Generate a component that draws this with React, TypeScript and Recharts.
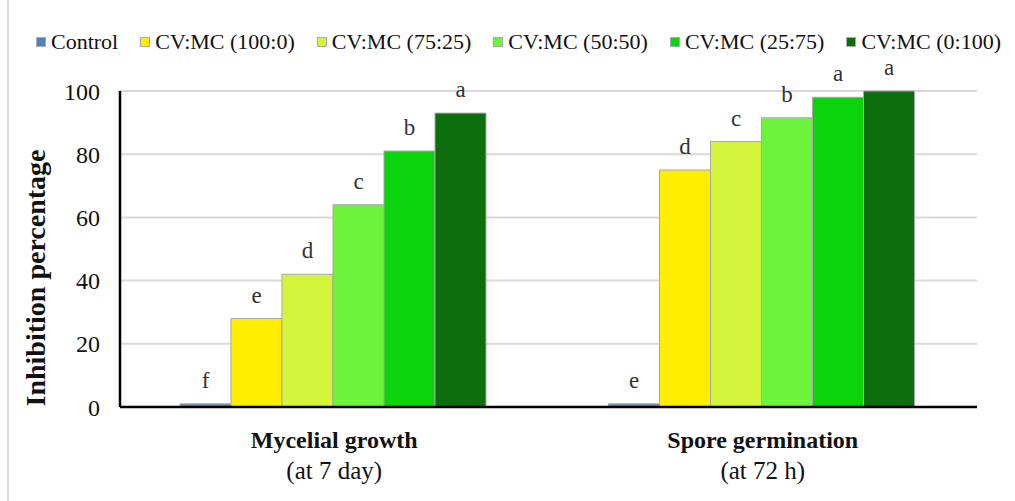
import React from 'react';
import { BarChart, Bar, XAxis, YAxis, CartesianGrid, LabelList, Label } from 'recharts';

// categories + second line of the x labels
const categories = ['Mycelial growth', 'Spore germination'];
const subLabels = ['(at 7 day)', '(at 72 h)'];

const seriesNames = ['Control', 'CV:MC (100:0)', 'CV:MC (75:25)', 'CV:MC (50:50)', 'CV:MC (25:75)', 'CV:MC (0:100)'];
const seriesColors = ['#6f8ab5', '#ffee00', '#d4f53c', '#6cf43c', '#0cd40c', '#0c6e0c'];
const legendColors = ['#4f81bd', '#ffee00', '#d4f53c', '#6cf43c', '#0cd40c', '#0c6e0c'];

// values per category, in series order
const mycelial = [1, 28, 42, 64, 81, 93];
const spore = [1, 75, 84, 91.5, 98, 100];

// significance letters above the bars
const mycelialLetters = ['f', 'e', 'd', 'c', 'b', 'a'];
const sporeLetters = ['e', 'd', 'c', 'b', 'a', 'a'];

const yTicks = [0, 20, 40, 60, 80, 100];

const keys = seriesNames.map((_, i) => `s${i}`);
const letters = [mycelialLetters, sporeLetters];

const data = categories.map((name, ci) => {
  const vals = ci === 0 ? mycelial : spore;
  const row: Record<string, any> = { name };
  keys.forEach((k, si) => { row[k] = vals[si]; });
  return row;
});

const FONT = 'Liberation Serif, Times New Roman, DejaVu Serif, serif';

const XTick = (props: any) => {
  const { x, y, payload } = props;
  return (
    <g>
      <text x={x} y={y + 39} textAnchor="middle" style={{ fontFamily: FONT }} fontWeight="bold" fontSize={24} fill="#111">
        {payload.value}
      </text>
      <text x={x} y={y + 70} textAnchor="middle" style={{ fontFamily: FONT }} fontSize={25} fill="#111">
        {subLabels[payload.index]}
      </text>
    </g>
  );
};

const letterContent = (si: number) => (props: any) => {
  const { x, y, width, index } = props;
  return (
    <text x={x + width / 2} y={y - 16} textAnchor="middle" style={{ fontFamily: FONT }} fontSize={23} fill="#333">
      {letters[index][si]}
    </text>
  );
};

export default function App() {
  return (
    <div style={{ position: 'absolute', left: 0, top: 0, width: 1015, height: 501, background: '#fff', fontFamily: FONT }}>
      <div style={{ position: 'absolute', left: 7, top: 0, width: 2, height: 501, background: '#d9d9d9' }} />
      <div style={{ position: 'absolute', left: 36, top: 29, display: 'flex', alignItems: 'center', gap: 22, fontSize: 22, color: '#111', whiteSpace: 'nowrap' }}>
        {seriesNames.map((n, i) => (
          <div key={n} style={{ display: 'flex', alignItems: 'center' }}>
            <span style={{ display: 'inline-block', width: 8, height: 8, background: legendColors[i], border: '1px solid #aaa', marginRight: 5 }} />
            <span>{n}</span>
          </div>
        ))}
      </div>
      <BarChart
        width={1015}
        height={501}
        data={data}
        margin={{ top: 91, right: 38, bottom: 0, left: 0 }}
        barCategoryGap="14%"
        barGap={0}
        style={{ position: 'absolute', left: 0, top: 0 }}
      >
        <CartesianGrid horizontal vertical={false} stroke="#d9d9d9" strokeWidth={2} />
        <XAxis
          dataKey="name"
          height={94}
          tickSize={0}
          tick={<XTick />}
          axisLine={{ stroke: '#000', strokeWidth: 2.5 }}
          tickLine={false}
        />
        <YAxis
          width={120}
          domain={[0, 100]}
          ticks={yTicks}
          tickSize={0}
          tickMargin={20}
          tickLine={false}
          axisLine={{ stroke: '#000', strokeWidth: 2.5 }}
          tick={{ fill: '#111', fontSize: 24, style: { fontFamily: FONT } }}
        >
          <Label
            content={() => (
              <text
                x={35}
                y={278}
                transform="rotate(-90, 35, 278)"
                textAnchor="middle"
                dominantBaseline="central"
                style={{ fontFamily: FONT }}
                fontWeight="bold"
                fontSize={28}
                fill="#111"
              >
                Inhibition percentage
              </text>
            )}
          />
        </YAxis>
        {keys.map((k, si) => (
          <Bar key={k} dataKey={k} fill={seriesColors[si]} stroke="#a8a8a8" strokeWidth={1} isAnimationActive={false}>
            <LabelList dataKey={k} content={letterContent(si)} />
          </Bar>
        ))}
      </BarChart>
    </div>
  );
}
